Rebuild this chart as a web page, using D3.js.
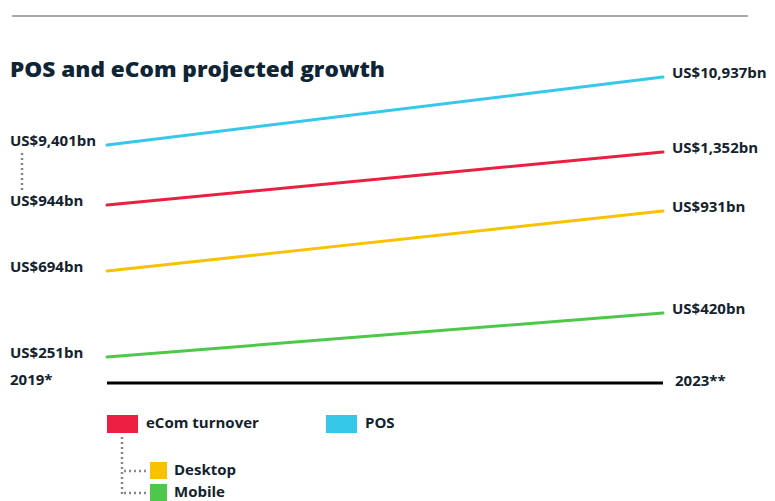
<!DOCTYPE html>
<html>
<head>
<meta charset="utf-8">
<script src="https://cdn.jsdelivr.net/npm/d3@7/dist/d3.min.js"></script>
<style>
  html, body { margin: 0; padding: 0; background: #ffffff; }
  svg { display: block; }
  text { font-family: "Open Sans", "Noto Sans", sans-serif; }
</style>
</head>
<body>
<svg id="chart" width="775" height="501"></svg>
<script>
// Years compared
const years = ["2019*", "2023**"];

// Series (US$ bn)
const seriesNames = ["POS", "eCom turnover", "Desktop", "Mobile"];
const posValues = [9401, 10937];
const ecomValues = [944, 1352];
const desktopValues = [694, 931];
const mobileValues = [251, 420];

const seriesColors = ["#35c8e8", "#ec1f42", "#f8c200", "#4ec84a"];

const fmt = v => "US$" + d3.format(",")(v) + "bn";

const svg = d3.select("#chart");
const ink = "#14222e";
const labelSize = 15;

// Schematic value axis: piecewise-linear, keeps the four series apart
const yDomain = [0, 251, 420, 694, 931, 944, 1352, 9401, 10937];
const yRange  = [383, 357, 313, 271, 211, 205, 152, 145, 77];
const y = d3.scaleLinear().domain(yDomain).range(yRange);
const x = d3.scalePoint().domain(years).range([107, 663]);

// Top rule
svg.append("line")
  .attr("x1", 12).attr("x2", 748).attr("y1", 16).attr("y2", 16)
  .attr("stroke", "#a8a8a8").attr("stroke-width", 2);

// Title
svg.append("text")
  .attr("x", 10).attr("y", 77)
  .attr("font-size", 21).attr("font-weight", 800)
  .attr("fill", "#0f2535")
  .attr("textLength", 375).attr("lengthAdjust", "spacingAndGlyphs")
  .text("POS and eCom projected growth");

const series = [posValues, ecomValues, desktopValues, mobileValues].map((vals, i) => ({
  name: seriesNames[i],
  color: seriesColors[i],
  points: years.map((yr, j) => ({ year: yr, value: vals[j] }))
}));

const line = d3.line().x(d => x(d.year)).y(d => y(d.value));

svg.append("g").selectAll("path")
  .data(series)
  .join("path")
  .attr("d", d => line(d.points))
  .attr("fill", "none")
  .attr("stroke", d => d.color)
  .attr("stroke-width", 3)
  .attr("stroke-linecap", "round");

// Value labels, left (2019) and right (2023)
const labels = svg.append("g").attr("font-size", labelSize).attr("font-weight", 700).attr("fill", ink);
series.forEach(s => {
  const a = s.points[0], b = s.points[1];
  labels.append("text")
    .attr("x", 10).attr("y", y(a.value) - 3)
    .attr("dominant-baseline", "middle")
    .text(fmt(a.value));
  labels.append("text")
    .attr("x", x(b.year) + 9).attr("y", y(b.value) - 3)
    .attr("dominant-baseline", "middle")
    .text(fmt(b.value));
});

// Dotted link between the two top-left labels
svg.append("line")
  .attr("x1", 22).attr("x2", 22)
  .attr("y1", y(posValues[0]) + 8).attr("y2", y(ecomValues[0]) - 14)
  .attr("stroke", "#888").attr("stroke-width", 2.5)
  .attr("stroke-dasharray", "2,3");

// Baseline with year labels
const baseY = y(0);
svg.append("line")
  .attr("x1", x(years[0])).attr("x2", x(years[1]))
  .attr("y1", baseY).attr("y2", baseY)
  .attr("stroke", "#000").attr("stroke-width", 3);
svg.append("text")
  .attr("x", 10).attr("y", baseY - 2)
  .attr("dominant-baseline", "middle")
  .attr("font-size", labelSize).attr("font-weight", 700).attr("fill", ink)
  .text(years[0]);
svg.append("text")
  .attr("x", x(years[1]) + 12).attr("y", baseY - 1)
  .attr("dominant-baseline", "middle")
  .attr("font-size", labelSize).attr("font-weight", 700).attr("fill", ink)
  .text(years[1]);

// Legend
const legend = svg.append("g").attr("font-size", labelSize).attr("font-weight", 700).attr("fill", ink);
const bigKeys = [
  { name: seriesNames[1], color: seriesColors[1], x: 107 },
  { name: seriesNames[0], color: seriesColors[0], x: 326 }
];
bigKeys.forEach(k => {
  legend.append("rect").attr("x", k.x).attr("y", 415).attr("width", 31).attr("height", 18).attr("fill", k.color);
  legend.append("text").attr("x", k.x + 39).attr("y", 424).attr("dominant-baseline", "middle").text(k.name);
});

// Dotted tree from eCom key to its sub-series
const tree = legend.append("g")
  .attr("stroke", "#888").attr("stroke-width", 2.5).attr("stroke-dasharray", "2,3").attr("fill", "none");
tree.append("line").attr("x1", 122).attr("x2", 122).attr("y1", 437).attr("y2", 495);
const subKeys = [
  { name: seriesNames[2], color: seriesColors[2], y: 462 },
  { name: seriesNames[3], color: seriesColors[3], y: 484 }
];
subKeys.forEach(k => {
  tree.append("line").attr("x1", 124).attr("x2", 149).attr("y1", k.y + 9).attr("y2", k.y + 9);
  legend.append("rect").attr("x", 150).attr("y", k.y).attr("width", 17).attr("height", 17).attr("fill", k.color);
  legend.append("text").attr("x", 174).attr("y", k.y + 9).attr("dominant-baseline", "middle").text(k.name);
});
</script>
</body>
</html>
